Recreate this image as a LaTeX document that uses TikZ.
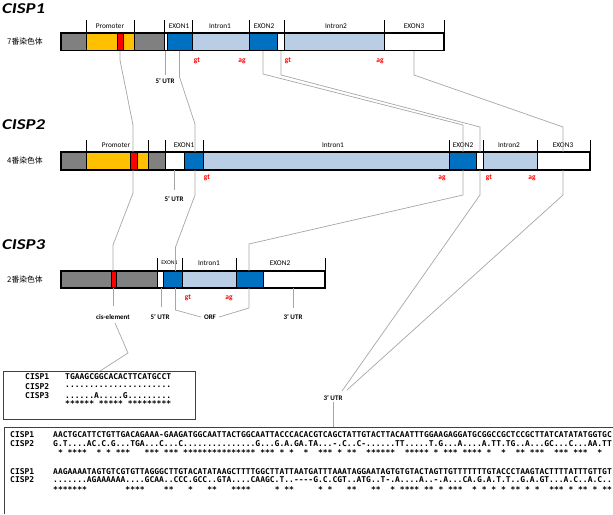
\documentclass[tikz,border=0pt]{standalone}
\usepackage{fontspec}
\setmainfont{Carlito}
\setmonofont{DejaVu Sans Mono}
\newfontfamily\cjkfont{Noto Sans CJK SC}
\definecolor{cgray}{HTML}{808080}
\definecolor{corange}{HTML}{FFC000}
\definecolor{cred}{HTML}{FF0000}
\definecolor{cblue}{HTML}{0070C0}
\definecolor{clight}{HTML}{B9CDE5}
\definecolor{cline}{HTML}{A6A6A6}
\makeatletter
\def\starify#1{\st@rify#1\relax}
\def\st@rify#1{\ifx#1\relax\else\ifx#1.*\else\phantom{*}\fi\expandafter\st@rify\fi}
\makeatother
\newcommand\barseg[5]{\filldraw[fill=#1,draw=black,line width=0.9pt] (#2,#4) rectangle (#3,#5);}
\begin{document}
\begin{tikzpicture}[x=1pt,y=-1pt,
  ticky/.style={draw=black,line width=0.8pt},
  conn/.style={draw=cline,line width=0.7pt},
  outer/.style={draw=black,line width=1.5pt},
  lab/.style={font=\fontsize{7.3}{8}\selectfont,inner sep=0pt},
  blab/.style={font=\fontsize{7}{8}\selectfont\bfseries,inner sep=0pt},
  gtag/.style={font=\fontsize{7.5}{8}\selectfont\bfseries,text=cred,inner sep=0pt},
  ttl/.style={font=\fontsize{15}{16}\selectfont\bfseries\itshape,anchor=west,inner sep=0pt},
  chr/.style={font=\cjkfont\fontsize{7.8}{8}\selectfont,anchor=west,inner sep=0pt},
  seq/.style={font=\ttfamily\bfseries\fontsize{8}{9}\selectfont,anchor=west,inner sep=0pt}]
\useasboundingbox (0,0) rectangle (613,514);

% ---------------- CISP1 ----------------
\node[ttl] (t1) at (2,9) {\scalebox{1.25}[1]{CISP1}};
\node[chr] (k1) at (7,42) {7番染色体};
\foreach \x in {86,134,164,192,249,284,384,444} \draw[ticky] (\x,20) -- (\x,33);
\barseg{cgray}{61}{86}{33}{50.5}
\barseg{corange}{86}{117}{33}{50.5}
\barseg{cred}{117}{123}{33}{50.5}
\barseg{corange}{123}{134}{33}{50.5}
\barseg{cgray}{134}{164}{33}{50.5}
\barseg{white}{164}{167}{33}{50.5}
\barseg{cblue}{167}{192}{33}{50.5}
\barseg{clight}{192}{249}{33}{50.5}
\barseg{cblue}{249}{277}{33}{50.5}
\barseg{white}{277}{284}{33}{50.5}
\barseg{clight}{284}{384}{33}{50.5}
\barseg{white}{384}{444}{33}{50.5}
\draw[outer] (61,33) rectangle (444,50.5);
\node[lab] (p1) at (110,26) {Promoter};
\node[lab] (e11) at (179,26) {EXON1};
\node[lab] (i11) at (220,26) {Intron1};
\node[lab] (e12) at (264,26) {EXON2};
\node[lab] (i12) at (336,26) {Intron2};
\node[lab] (e13) at (414,26) {EXON3};
\node[gtag] (g11) at (197,61) {gt};
\node[gtag] (a11) at (242,61) {ag};
\node[gtag] (g12) at (288,61) {gt};
\node[gtag] (a12) at (380,61) {ag};
\draw[conn] (165,51) -- (165,75);
\node[blab] (u1) at (165,81) {5’ UTR};

% ---------------- CISP2 ----------------
\node[ttl] (t2) at (2,125) {\scalebox{1.25}[1]{CISP2}};
\node[chr] (k2) at (7,161) {4番染色体};
\foreach \x in {86,148,165,203,449,483,537,590} \draw[ticky] (\x,140) -- (\x,152);
\barseg{cgray}{61}{86}{152}{170}
\barseg{corange}{86}{130}{152}{170}
\barseg{cred}{130}{137}{152}{170}
\barseg{corange}{137}{148}{152}{170}
\barseg{cgray}{148}{165}{152}{170}
\barseg{white}{165}{184}{152}{170}
\barseg{cblue}{184}{203}{152}{170}
\barseg{clight}{203}{449}{152}{170}
\barseg{cblue}{449}{476}{152}{170}
\barseg{white}{476}{483}{152}{170}
\barseg{clight}{483}{537}{152}{170}
\barseg{white}{537}{590}{152}{170}
\draw[outer] (61,152) rectangle (590,170);
\node[lab] (p2) at (116,145) {Promoter};
\node[lab] (e21) at (184,145) {EXON1};
\node[lab] (i21) at (333,145) {Intron1};
\node[lab] (e22) at (463,145) {EXON2};
\node[lab] (i22) at (509,145) {Intron2};
\node[lab] (e23) at (563,145) {EXON3};
\node[gtag] (g21) at (207,178) {gt};
\node[gtag] (a21) at (442,178) {ag};
\node[gtag] (g22) at (489,178) {gt};
\node[gtag] (a22) at (532,178) {ag};
\draw[conn] (174,170) -- (174,190);
\node[blab] (u2) at (174,199) {5’ UTR};

% ---------------- CISP3 ----------------
\node[ttl] (t3) at (2,245) {\scalebox{1.25}[1]{CISP3}};
\node[chr] (k3) at (7,280) {2番染色体};
\foreach \x in {157,182,236,325} \draw[ticky] (\x,258) -- (\x,271);
\barseg{cgray}{61}{111}{271}{288}
\barseg{cred}{111}{116}{271}{288}
\barseg{cgray}{116}{157}{271}{288}
\barseg{white}{157}{163}{271}{288}
\barseg{cblue}{163}{182}{271}{288}
\barseg{clight}{182}{236}{271}{288}
\barseg{cblue}{236}{263}{271}{288}
\barseg{white}{263}{325}{271}{288}
\draw[outer] (61,271) rectangle (325,288);
\node[lab,font=\fontsize{5.8}{6}\selectfont] (e31) at (169.5,263) {EXON1};
\node[lab] (i31) at (209,263) {Intron1};
\node[lab] (e32) at (280,263) {EXON2};
\node[gtag] (g31) at (188,298) {gt};
\node[gtag] (a31) at (229,298) {ag};
\node[blab] (ce) at (113,317) {cis-element};
\node[blab] (u3) at (160,317) {5’ UTR};
\node[blab] (orf) at (210,317) {ORF};
\node[blab] (u33) at (293,317) {3’ UTR};
\draw[conn] (113,288) -- (113,306);
\draw[conn] (161,288) -- (161,307);
\draw[conn] (293,288) -- (293,308);
\draw[conn] (175.5,288) -- (175.5,310) -- ([xshift=-3pt]orf.west);
\draw[conn] (249,288) -- (249,308) -- ([xshift=3pt]orf.east);

% ---------------- connectors ----------------
% promoter / cis-element
\draw[conn] (120,51) -- (120,60) -- (133,125) -- (133,152);
\draw[conn] (133,170) -- (133,193) -- (113,245) -- (113,271);
\draw[conn] (115,323) -- (128,353) -- (100,371);
% EXON1
\draw[conn] (179.5,51) -- (179.5,77) -- (195,124) -- (195,152);
\draw[conn] (195,170) -- (195,195) -- (175.5,247) -- (175.5,271);
% EXON2 / white
\draw[conn] (263,51) -- (263,74) -- (463,125) -- (463,152);
\draw[conn] (281,51) -- (281,75) -- (480,127) -- (480,152);
\draw[conn] (463,170) -- (463,195) -- (249,244) -- (249,271);
\node[blab] (u4) at (333,398) {3’ UTR};
\draw[conn] (480,170) -- (480,195) -- (342,391);
% EXON3
\draw[conn] (414,51) -- (414,75) -- (563,127) -- (563,152);
\draw[conn] (563,170) -- (563,195) -- (347,390);
\draw[conn] (u4.south) ++(0,1) -- (333,427);

% ---------------- small alignment box ----------------
\draw[line width=0.7pt,draw=black!75] (3,371) rectangle (195,419);
\node[seq] (s1) at (25,377) {CISP1};
\node[seq] (s2) at (25,387) {CISP2};
\node[seq] (s3) at (25,396) {CISP3};
\node[seq] (q1) at (65,377) {TGAAGCGGCACACTTCATGCCT};
\node[seq] (q2) at (65,387) {......................};
\node[seq] (q3) at (65,396) {......A.....G.........};
\node[seq] (q4) at (65,404) {\starify{......A.....G.........}};

% ---------------- large alignment box ----------------
\draw[line width=0.7pt,draw=black!75] (4,514) -- (4,427) -- (613,427);
\node[seq] (b1) at (10,435) {CISP1};
\node[seq] (b2) at (10,444) {CISP2};
\node[seq] (b3) at (10,472) {CISP1};
\node[seq] (b4) at (10,480) {CISP2};
\node[seq] (r1) at (53,435) {AACTGCATTCTGTTGACAGAAA-GAAGATGGCAATTACTGGCAATTACCCACACGTCAGCTATTGTACTTACAATTTGGAAGAGGATGCGGCCGCTCCGCTTATCATATATGGTGC};
\node[seq] (r2) at (53,444) {G.T....AC.C.G...TGA...C...C...............G...G.A.GA.TA...-.C..C-......TT.....T.G...A....A.TT.TG..A...GC...C...AA.TT};
\node[seq] (r3) at (53,453) {\starify{G.T....AC.C.G...TGA...C...C...............G...G.A.GA.TA...-.C..C-......TT.....T.G...A....A.TT.TG..A...GC...C...AA.TT}};
\node[seq] (r4) at (53,472) {AAGAAAATAGTGTCGTGTTAGGGCTTGTACATATAAGCTTTTGGCTTATTAATGATTTAAATAGGAATAGTGTGTACTAGTTGTTTTTTTGTACCCTAAGTACTTTTATTTGTTGT};
\node[seq] (r5) at (53,480) {.......AGAAAAAA....GCAA..CCC.GCC..GTA....CAAGC.T..----G.C.CGT..ATG..T-.A....A..-.A...CA.G.A.T.T..G.A.GT...A.C..A.C..};
\node[seq] (r6) at (53,490) {\starify{.......AGAAAAAA....GCAA..CCC.GCC..GTA....CAAGC.T..----G.C.CGT..ATG..T-.A....A..-.A...CA.G.A.T.T..G.A.GT...A.C..A.C..}};
\end{tikzpicture}
\end{document}
